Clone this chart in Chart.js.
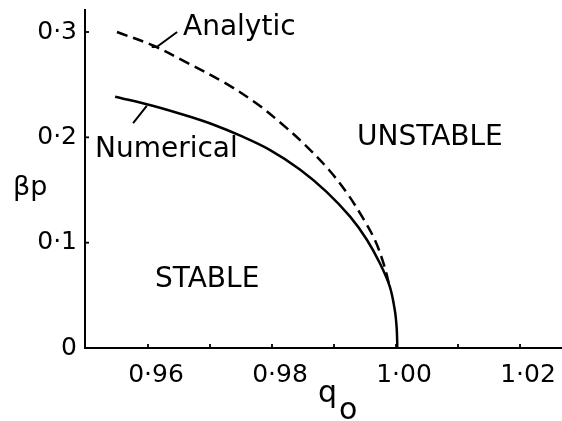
<!DOCTYPE html>
<html lang="en">
<head>
<meta charset="UTF-8">
<title>Stability boundary</title>
<script src="https://cdn.jsdelivr.net/npm/chart.js@4.4.0/dist/chart.umd.min.js"></script>
<style>
    html, body { margin: 0; padding: 0; background: #fff; }
    .chart-box { width: 562px; height: 421px; }
</style>
</head>
<body>
<div class="chart-box"><canvas id="stabilityChart"></canvas></div>
<script>
// values: q0 along x, beta_p along y
var analyticQ    = [0.9550, 0.9608, 0.9662, 0.9721, 0.9774, 0.9816, 0.9853, 0.9892, 0.9921, 0.9947, 0.9966, 0.9980, 0.9990];
var analyticBeta = [0.300, 0.2872, 0.2712, 0.2527, 0.2326, 0.2127, 0.193, 0.169, 0.147, 0.123, 0.1025, 0.080, 0.058];

var numericalQ    = [0.9547, 0.9609, 0.9668, 0.9708, 0.9748, 0.9797, 0.9845, 0.9888, 0.9926, 0.9953, 0.9974, 0.9990, 0.9998, 1.0001, 1.0002, 1.0002];
var numericalBeta = [0.2386, 0.2298, 0.2195, 0.2115, 0.2018, 0.1879, 0.1695, 0.1483, 0.1247, 0.1028, 0.0804, 0.0582, 0.0361, 0.0199, 0.0045, 0];

// little pointer strokes from the words to the curves
var analyticLeaderQ    = [0.9606, 0.9614, 0.9647];
var analyticLeaderBeta = [0.2858, 0.2858, 0.3000];
var numericalLeaderQ    = [0.9598, 0.9576];
var numericalLeaderBeta = [0.2298, 0.2136];

var xTicks      = [0.96, 0.97, 0.98, 0.99, 1.00, 1.01, 1.02];
var xTickLabels = ['0·96', '', '0·98', '', '1·00', '', '1·02'];
var yTicks      = [0, 0.1, 0.2, 0.3];
var yTickLabels = ['0', '0·1', '0·2', '0·3'];

var labelTexts = ['Analytic', 'Numerical', 'UNSTABLE', 'STABLE'];
var labelQ     = [0.96565, 0.95145, 0.99371, 0.96113];
var labelBeta  = [0.2972, 0.1813, 0.1927, 0.0579];

var FONT = "'DejaVu Sans', 'Liberation Sans', sans-serif";

function toPoints(xs, ys) {
    return xs.map((x, i) => ({x: x, y: ys[i]}));
}

var extras = {
    id: 'extras',
    afterDraw(chart) {
        var ctx = chart.ctx;
        var xs = chart.scales.x, ys = chart.scales.y;
        ctx.save();
        ctx.strokeStyle = '#000';
        ctx.fillStyle = '#000';
        ctx.lineWidth = 1.8;

        // inward tick marks
        xTicks.forEach(v => {
            var px = xs.getPixelForValue(v);
            ctx.beginPath();
            ctx.moveTo(px, ys.bottom);
            ctx.lineTo(px, ys.bottom - 4);
            ctx.stroke();
        });
        yTicks.slice(1).forEach(v => {
            var py = ys.getPixelForValue(v);
            ctx.beginPath();
            ctx.moveTo(xs.left, py);
            ctx.lineTo(xs.left + 4, py);
            ctx.stroke();
        });

        // words inside the plot
        ctx.font = '28px ' + FONT;
        ctx.textAlign = 'left';
        ctx.textBaseline = 'alphabetic';
        labelTexts.forEach((t, i) => {
            ctx.fillText(t, xs.getPixelForValue(labelQ[i]), ys.getPixelForValue(labelBeta[i]));
        });

        // axis names
        ctx.font = '27px ' + FONT;
        ctx.fillText('βp', ys.left + 13, ys.getPixelForValue(0.145));
        ctx.font = '30px ' + FONT;
        var qx = xs.getPixelForValue(0.98742);
        ctx.fillText('q', qx, xs.top + 54);
        ctx.fillText('o', qx + 21, xs.top + 71);
        ctx.restore();
    }
};

var ctx = document.getElementById('stabilityChart').getContext('2d');
var stabilityChart = new Chart(ctx, {
    type: 'line',
    data: {
        datasets: [
            {
                label: 'Analytic',
                data: toPoints(analyticQ, analyticBeta),
                borderColor: '#000',
                borderWidth: 2.5,
                borderDash: [11, 6],
                tension: 0.35,
                fill: false
            },
            {
                label: 'Numerical',
                data: toPoints(numericalQ, numericalBeta),
                borderColor: '#000',
                borderWidth: 2.5,
                tension: 0.35,
                fill: false
            },
            {
                label: 'analytic pointer',
                data: toPoints(analyticLeaderQ, analyticLeaderBeta),
                borderColor: '#000',
                borderWidth: 2,
                tension: 0
            },
            {
                label: 'numerical pointer',
                data: toPoints(numericalLeaderQ, numericalLeaderBeta),
                borderColor: '#000',
                borderWidth: 2,
                tension: 0
            }
        ]
    },
    options: {
        animation: false,
        responsive: true,
        maintainAspectRatio: false,
        layout: {
            padding: { top: 10, right: 1, left: 0, bottom: 0 }
        },
        elements: {
            point: { radius: 0 }
        },
        plugins: {
            legend: { display: false },
            tooltip: { enabled: false }
        },
        scales: {
            x: {
                type: 'linear',
                min: 0.94984,
                max: 1.02661,
                afterBuildTicks: s => { s.ticks = xTicks.map(v => ({value: v})); },
                afterFit: s => { s.height = 73; s.paddingLeft = 0; s.paddingRight = 0; },
                grid: { display: false, drawTicks: false },
                border: { display: true, color: '#000', width: 2 },
                ticks: {
                    color: '#000',
                    font: { family: FONT, size: 25 },
                    padding: 12,
                    labelOffset: 8,
                    maxRotation: 0,
                    autoSkip: false,
                    callback: (value, i) => xTickLabels[i]
                }
            },
            y: {
                type: 'linear',
                min: 0,
                max: 0.32089,
                afterBuildTicks: s => { s.ticks = yTicks.map(v => ({value: v})); },
                afterFit: s => { s.width = 85; s.paddingTop = 0; s.paddingBottom = 0; },
                grid: { display: false, drawTicks: false },
                border: { display: true, color: '#000', width: 2 },
                ticks: {
                    color: '#000',
                    font: { family: FONT, size: 25 },
                    padding: 8,
                    autoSkip: false,
                    callback: (value, i) => yTickLabels[i]
                }
            }
        }
    },
    plugins: [extras]
});
</script>
</body>
</html>
